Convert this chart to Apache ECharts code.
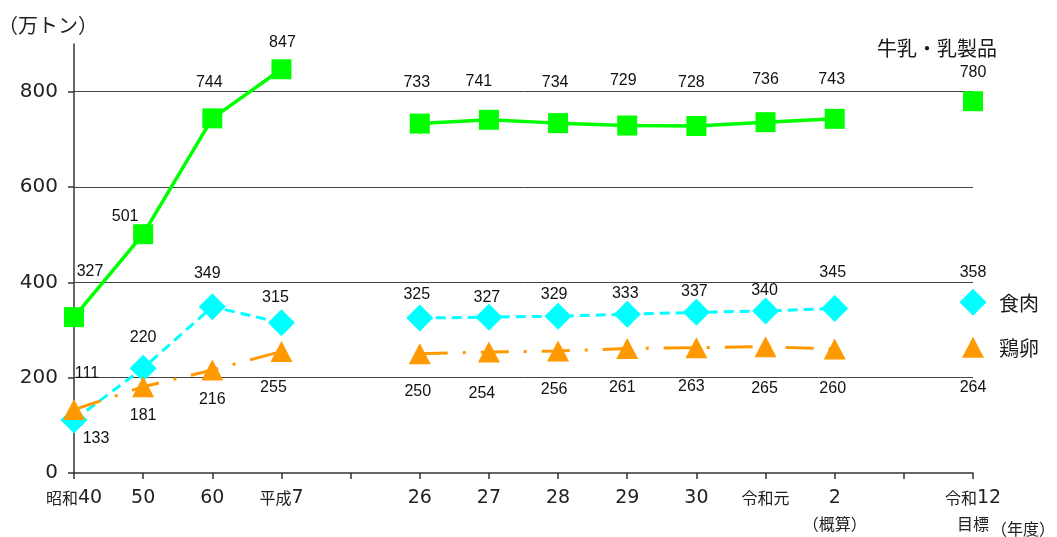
<!DOCTYPE html>
<html>
<head>
<meta charset="utf-8">
<script src="https://cdn.jsdelivr.net/npm/echarts@6/dist/echarts.min.js"></script>
<style>
  html, body { margin: 0; padding: 0; background: #fff; }
  #chart { width: 1057px; height: 537px; }
</style>
</head>
<body>
<div id="chart"></div>
<script>
// Fiscal years (blank slots mark breaks in the time series)
const categories = ['昭和40', '50', '60', '平成7', '', '26', '27', '28', '29', '30', '令和元', '2\n（概算）', '', '令和12\n目標'];

// Production, 10,000 t
const milk = [327, 501, 744, 847, null, 733, 741, 734, 729, 728, 736, 743, null, 780];
const meat = [111, 220, 349, 315, null, 325, 327, 329, 333, 337, 340, 345, null, 358];
const eggs = [133, 181, 216, 255, null, 250, 254, 256, 261, 263, 265, 260, null, 264];

const seriesNames = ['牛乳・乳製品', '食肉', '鶏卵'];
const yTicks = [0, 200, 400, 600, 800];

// Value-label placement relative to each point [dx, dy]
const milkShift = [[16, -46], [-18, -18], [-3, -36], [1, -27], null, [-3, -41], [-10, -38], [-3, -41], [-4, -45], [-5, -43], [0, -43], [-3, -39], null, [0, -29]];
const meatShift = [[13, -46], [0, -31], [-5, -33], [-6, -25], null, [-3, -23], [-2, -20], [-4, -22], [-2, -21], [-2, -21], [-1, -20], [-2, -36], null, [0, -30]];
const eggShift  = [[22, 29], [0, 29], [0, 30], [-8, 36], null, [-2, 38], [-7, 42], [-4, 39], [-5, 39], [-5, 39], [-1, 42], [-2, 40], null, [0, 40]];

const jp = '"Noto Sans CJK JP", sans-serif';
const digitFont = '"DejaVu Sans", "Noto Sans CJK JP", sans-serif';
const valueFont = '"Liberation Sans", Arial, sans-serif';

function items(values, shifts) {
  return values.map((v, i) => v == null ? '-' : { value: v, label: { offset: shifts[i] } });
}

// Category label: digits and kana/kanji runs get their own text styles
function yearLabel(value) {
  return value.split('\n').map(line =>
    (line.match(/\d+|[^\d]+/g) || []).map(run =>
      /^\d+$/.test(run) ? '{d|' + run + '}' : '{k|' + run + '}'
    ).join('')
  ).join('\n');
}

function nameMark(values, offset, name) {
  const last = values.length - 1;
  return {
    symbol: 'circle',
    symbolSize: 0,
    silent: true,
    data: [{ coord: [last, values[last]], value: name }],
    label: {
      show: true,
      position: 'inside',
      offset: offset,
      formatter: name,
      color: '#1a1a1a',
      fontSize: 20,
      fontFamily: jp
    }
  };
}

function lineSeries(name, values, shifts, color, symbol, size, lineType, width, markOffset) {
  return {
    name: name,
    type: 'line',
    data: items(values, shifts),
    connectNulls: false,
    showSymbol: true,
    showAllSymbol: true,
    symbol: symbol,
    symbolSize: size,
    itemStyle: { color: color },
    lineStyle: { color: color, width: width, type: lineType },
    label: {
      show: true,
      position: 'inside',
      color: '#111',
      fontSize: 16,
      fontFamily: valueFont
    },
    markPoint: nameMark(values, markOffset, name),
    z: 3
  };
}

const chart = echarts.init(document.getElementById('chart'));
chart.setOption({
  animation: false,
  backgroundColor: '#ffffff',
  grid: { left: 74, right: 84, top: 44, bottom: 64, containLabel: false, outerBoundsMode: 'none' },
  xAxis: {
    type: 'category',
    data: categories,
    boundaryGap: false,
    name: '（年度）',
    nameLocation: 'end',
    nameGap: 18,
    nameMoveOverlap: false,
    nameTextStyle: { color: '#222', fontSize: 16, fontFamily: jp, verticalAlign: 'top', padding: [48, 0, 0, 0] },
    axisLine: { lineStyle: { color: '#333', width: 1.5 } },
    axisTick: { show: true, interval: 0, length: 6, lineStyle: { color: '#333', width: 1.5 } },
    axisLabel: {
      interval: 0,
      margin: 12,
      color: '#222',
      formatter: yearLabel,
      rich: {
        d: { fontSize: 19, fontFamily: digitFont, color: '#222', lineHeight: 26 },
        k: { fontSize: 16, fontFamily: jp, color: '#222', lineHeight: 26 }
      }
    },
    splitLine: { show: false }
  },
  yAxis: {
    type: 'value',
    min: 0,
    max: 900,
    interval: 200,
    name: '（万トン）',
    nameLocation: 'end',
    nameGap: 9,
    nameMoveOverlap: false,
    nameTextStyle: { color: '#222', fontSize: 20, fontFamily: jp, align: 'center', padding: [0, 52, 0, 0] },
    axisLine: { show: true, lineStyle: { color: '#333', width: 1.5 } },
    axisTick: { show: true, length: 6, customValues: yTicks, lineStyle: { color: '#333', width: 1.5 } },
    axisLabel: {
      customValues: yTicks,
      margin: 16,
      color: '#222',
      fontSize: 20,
      fontFamily: digitFont
    },
    splitLine: { show: true, showMinLine: false, lineStyle: { color: '#444', width: 1 } }
  },
  series: [
    lineSeries(seriesNames[0], milk, milkShift, '#00ff00', 'rect', 20, 'solid', 3.5, [-36, -53]),
    lineSeries(seriesNames[1], meat, meatShift, '#00ffff', 'diamond', 27, [10, 6], 3, [46, 1]),
    lineSeries(seriesNames[2], eggs, eggShift, '#ff9900', 'triangle', [22, 21], [28, 15, 3, 15], 3, [46, 1])
  ]
});
</script>
</body>
</html>
